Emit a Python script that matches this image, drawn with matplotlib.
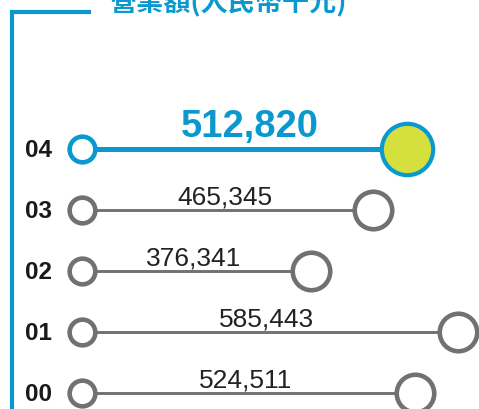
import matplotlib
matplotlib.use("Agg")
import matplotlib.pyplot as plt
from matplotlib.lines import Line2D

# datos
anos = ["04", "03", "02", "01", "00"]
valores = [512820, 465345, 376341, 585443, 524511]
etiquetas = ["512,820", "465,345", "376,341", "585,443", "524,511"]

azul = "#0a99cf"
gris = "#717171"
verde = "#d5e03f"

inicio = 51200  # donde empieza cada línea

fig = plt.figure(figsize=(4.79, 4.10), dpi=100)
ax = fig.add_axes([0, 0, 1, 1])
ax.set_xlim(-65400, 615900)
ax.set_ylim(4.262, -2.459)
ax.axis("off")

for i, (ano, v, lab) in enumerate(zip(anos, valores, etiquetas)):
    destacado = i == 0
    c = azul if destacado else gris
    ax.plot([inicio, v], [i, i], color=c, lw=3.6 if destacado else 2.1,
            solid_capstyle="butt", zorder=1)
    # circulo inicial
    ax.plot(inicio, i, "o", ms=18.5, mfc="white", mec=c, mew=3.3, zorder=3)
    # circulo final
    if destacado:
        ax.plot(v, i, "o", ms=37, mfc=verde, mec=azul, mew=3.0, zorder=3)
    else:
        ax.plot(v, i, "o", ms=27, mfc="white", mec=gris, mew=3.3, zorder=3)
    # valor
    medio = (inicio + v) / 2
    if destacado:
        ax.text(medio + 8000, i - 0.22, lab, ha="center", va="baseline",
                fontsize=27.5, fontweight="bold", color=azul,
                family="Liberation Sans")
    else:
        ax.text(medio - 4000, i - 0.11, lab, ha="center", va="baseline",
                fontsize=19, color="#222222", family="Liberation Sans")
    # año
    ax.text(25 / 479, i, ano, transform=ax.get_yaxis_transform(), ha="left",
            va="center", fontsize=17.5, fontweight="bold", color="#1a1a1a",
            family="Liberation Sans")

# marco azul
fig.add_artist(Line2D([12 / 479, 12 / 479], [397 / 410, 0], color=azul, lw=3,
                      solid_capstyle="butt"))
fig.add_artist(Line2D([10 / 479, 91 / 479], [397 / 410, 397 / 410], color=azul,
                      lw=3, solid_capstyle="butt"))

# titulo (cortado arriba como en el original)
fig.text(110 / 479, 1 - 2 / 410, "營業額(人民幣千元)", ha="left", va="center",
         fontsize=19.5, fontweight="bold", color=azul,
         family=["Noto Sans CJK TC", "DejaVu Sans"])

fig.savefig("out.png", dpi=100)
